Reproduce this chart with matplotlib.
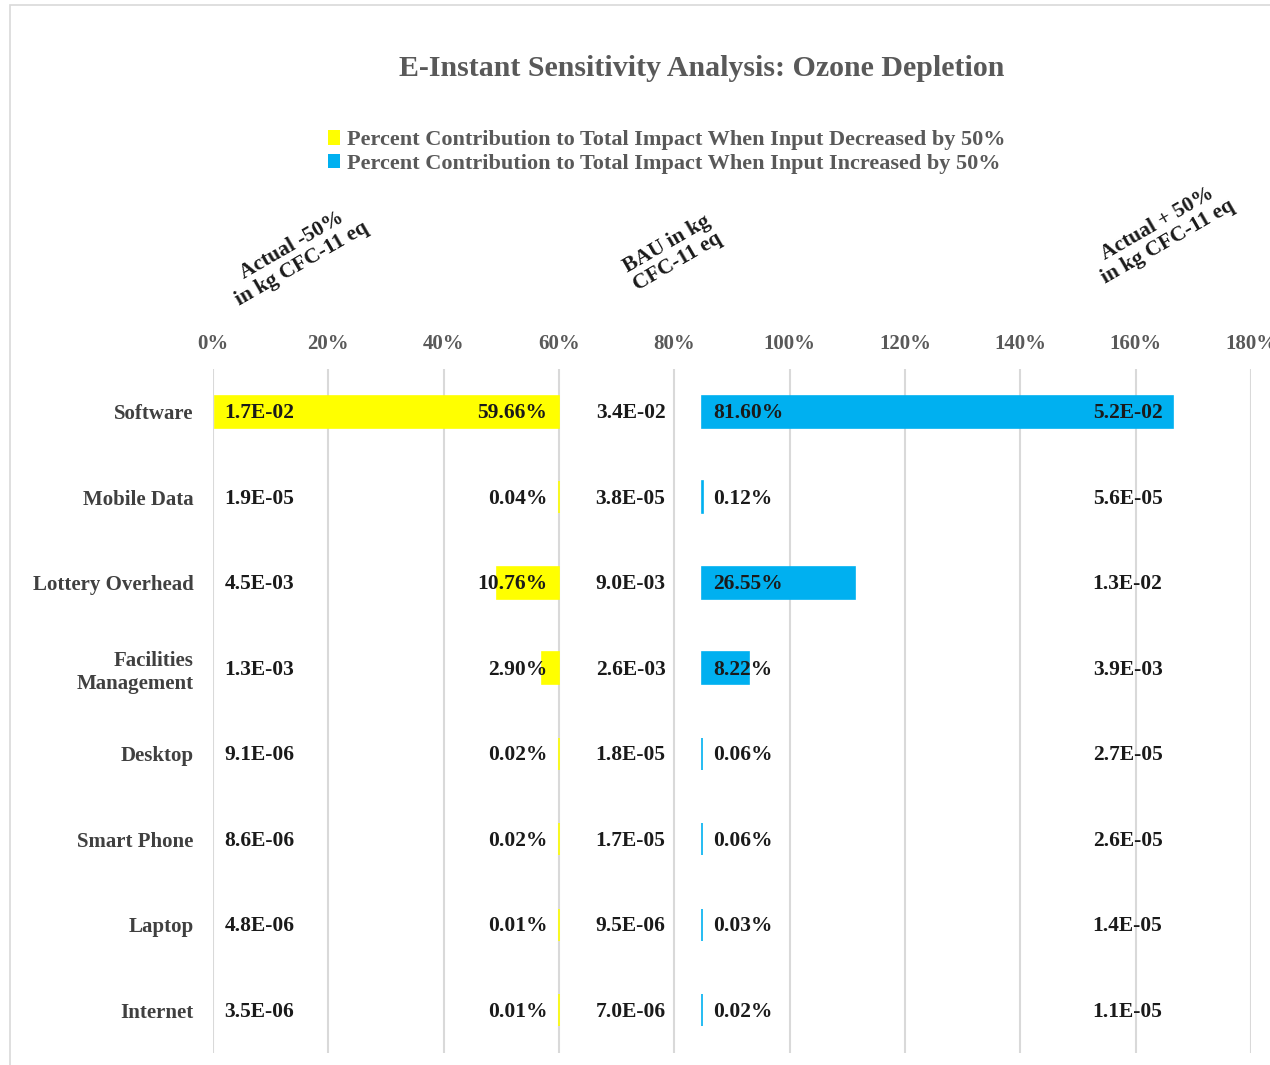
import matplotlib
matplotlib.use("Agg")
import matplotlib.pyplot as plt
from matplotlib.patches import Patch, Rectangle

categories = ['Software', 'Mobile Data', 'Lottery Overhead', 'Facilities\nManagement',
              'Desktop', 'Smart Phone', 'Laptop', 'Internet']
dec_pct = [59.66, 0.04, 10.76, 2.90, 0.02, 0.02, 0.01, 0.01]
inc_pct = [81.60, 0.12, 26.55, 8.22, 0.06, 0.06, 0.03, 0.02]
actual_minus = ['1.7E-02', '1.9E-05', '4.5E-03', '1.3E-03', '9.1E-06', '8.6E-06', '4.8E-06', '3.5E-06']
bau = ['3.4E-02', '3.8E-05', '9.0E-03', '2.6E-03', '1.8E-05', '1.7E-05', '9.5E-06', '7.0E-06']
actual_plus = ['5.2E-02', '5.6E-05', '1.3E-02', '3.9E-03', '2.7E-05', '2.6E-05', '1.4E-05', '1.1E-05']
xticks = [0, 20, 40, 60, 80, 100, 120, 140, 160, 180]

YELLOW = '#FFFF00'
BLUE = '#00B0F0'
GRAY = '#595959'
DARK = '#404040'
BLACK = '#1a1a1a'

plt.rcParams['font.family'] = ['Liberation Serif', 'DejaVu Serif']
plt.rcParams['font.weight'] = 'bold'

W, H = 1270, 1065
fig = plt.figure(figsize=(W / 100, H / 100), dpi=100)
fig.patch.set_facecolor('white')

# outer chart border
fig.patches.append(Rectangle((10 / W, -0.02), 1.1, 1 - 5 / H + 0.02,
                             transform=fig.transFigure, fill=False,
                             edgecolor='#d9d9d9', linewidth=1.2, zorder=0))

ax = fig.add_axes([213 / W, 1 - 1053 / H, (1251 - 213) / W, (1053 - 369) / H])
n = len(categories)
y = list(range(n))

dec_left = [60 - v for v in dec_pct]
inc_base = 84.8
ax.barh(y, dec_pct, left=dec_left, height=0.37, color=YELLOW,
        edgecolor=YELLOW, linewidth=1.2, zorder=2)
ax.barh(y, inc_pct, left=[inc_base] * n, height=0.37, color=BLUE,
        edgecolor=BLUE, linewidth=1.2, zorder=2)

ax.set_xlim(0, 180)
ax.set_ylim(n - 0.5, -0.5)
ax.set_xticks(xticks)
ax.set_xticklabels([f'{t}%' for t in xticks], fontsize=15, color=GRAY, fontweight='bold')
ax.xaxis.tick_top()
ax.tick_params(axis='x', length=0, pad=11)
ax.set_yticks(y)
ax.set_yticklabels(categories, fontsize=15, color=DARK, fontweight='bold')
ax.tick_params(axis='y', length=0, pad=14)
ax.grid(axis='x', color='#d9d9d9', linewidth=1.5, zorder=0)
ax.set_axisbelow(True)
for s in ax.spines.values():
    s.set_visible(False)

fs = 15.5
for i in range(n):
    ax.text(2.0, i + 0.02, actual_minus[i], ha='left', va='center', fontsize=fs, color=BLACK, zorder=3)
    ax.text(58.0, i + 0.02, f'{dec_pct[i]:.2f}%', ha='right', va='center', fontsize=fs, color=BLACK, zorder=3)
    ax.text(72.4, i + 0.02, bau[i], ha='center', va='center', fontsize=fs, color=BLACK, zorder=3)
    ax.text(86.7, i + 0.02, f'{inc_pct[i]:.2f}%', ha='left', va='center', fontsize=fs, color=BLACK, zorder=3)
    ax.text(158.6, i + 0.02, actual_plus[i], ha='center', va='center', fontsize=fs, color=BLACK, zorder=3)

# title
fig.text(702 / W, 1 - 68 / H, 'E-Instant Sensitivity Analysis: Ozone Depletion',
         ha='center', va='center', fontsize=21.5, color=GRAY, fontweight='bold')

# legend
handles = [Patch(facecolor=YELLOW, edgecolor='none'), Patch(facecolor=BLUE, edgecolor='none')]
labels = ['Percent Contribution to Total Impact When Input Decreased by 50%',
          'Percent Contribution to Total Impact When Input Increased by 50%']
fig.legend(handles, labels, loc='center left', bbox_to_anchor=(308 / W, 1 - 152 / H),
           frameon=False, handlelength=0.55, handleheight=0.6, handletextpad=0.3,
           labelspacing=0.15, prop={'family': 'Liberation Serif', 'weight': 'bold', 'size': 16},
           labelcolor=GRAY)

# column headers
hdr_kw = dict(ha='center', va='center', rotation=30, fontsize=15.5, color=BLACK,
              fontweight='bold', multialignment='center', rotation_mode='anchor',
              linespacing=1.05)
fig.text(297 / W, 1 - 255 / H, 'Actual -50%\nin kg CFC-11 eq', **hdr_kw)
fig.text(672 / W, 1 - 253 / H, 'BAU in kg\nCFC-11 eq', **hdr_kw)
fig.text(1163 / W, 1 - 233 / H, 'Actual + 50%\nin kg CFC-11 eq', **hdr_kw)

fig.savefig('out.png', dpi=100, facecolor='white')
